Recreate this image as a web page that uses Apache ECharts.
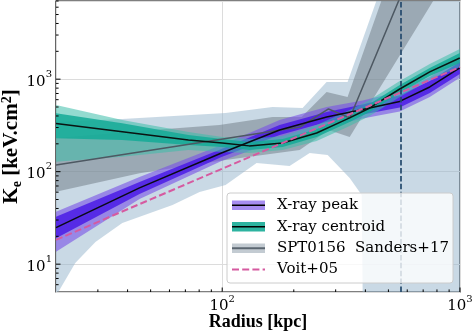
<!DOCTYPE html>
<html><head><meta charset="utf-8">
<script src="https://cdn.jsdelivr.net/npm/echarts@6/dist/echarts.min.js"></script>
<style>html,body{margin:0;padding:0;background:#fff}#c{width:474px;height:333px}</style>
</head><body><div id="c"></div>
<script>
// ---- axis ranges & ticks ----
const xRange = [20, 1000];
const yRange = [5, 7000];
const xMajorTicks = [100, 1000];
const xMinorTicks = [30,40,50,60,70,80,90,200,300,400,500,600,700,800,900];
const yMajorTicks = [10, 100, 1000];
const yMinorTicks = [6,7,8,9,20,30,40,50,60,70,80,90,200,300,400,500,600,700,800,900,2000,3000,4000,5000,6000,7000];

// ---- SPT0156 Sanders+17 ----
const sandR = [20, 212, 280, 344, 678];
const sandK = [118, 304, 476, 381, 24950];
const sandDarkUpR = [20, 44.9, 97.4, 162.8, 215.8, 274.8, 336.7, 468.5, 677];
const sandDarkUpK = [231, 275, 320, 390, 390, 727, 642, 7180, 67400];
const sandDarkLoR = [20, 44.9, 103.3, 211.6, 280.3, 343.6, 775.7, 1212];
const sandDarkLoK = [60.8, 96.1, 133.8, 171.6, 282.4, 237.2, 7180, 52600];
const sandLightUpR = [20, 38, 103.3, 162.8, 217.8, 274.8, 336.7, 446.4, 614.8, 1000];
const sandLightUpK = [345, 371, 431, 500, 488, 933, 933, 7180, 67400, 1e6];
const sandLightLoR = [20, 24.1, 29.3, 38, 61.8, 80.3, 103.3, 139.5, 192, 233.2, 277.6, 343.6, 386, 393.6, 1000];
const sandLightLoK = [4.53, 10.3, 17.4, 27.9, 43.7, 60.3, 71.8, 124.2, 115.2, 159.3, 151.5, 85.5, 56, 0.34, 0.3];

// ---- X-ray peak ----
const peakR = [20, 44.9, 99.3, 174.3, 274.9, 389.7, 557.7, 746.2, 998];
const peakK = [24.8, 66.7, 159.3, 282.4, 390.3, 470, 575, 823.6, 1321];
const peakDarkUp = [32.6, 77.4, 176, 320, 442, 532, 668, 956, 1535];
const peakDarkLo = [19.05, 57.4, 144, 249, 344.6, 415, 495, 709, 1138];
const peakLightUp = [36.9, 87.7, 194.4, 362, 500.6, 588, 737, 1056, 1694];
const peakLightLo = [13.6, 50.7, 130.5, 220, 304, 376, 448, 642, 1033];

// ---- X-ray centroid ----
const centR = [20, 38, 72.1, 100, 130, 179.5, 249.5, 343.5, 417, 558, 746, 998];
const centK = [332, 270, 220, 204, 190, 204, 262, 381, 488, 783, 1197, 1694];
const centDarkUp = [428, 333.6, 249, 225.6, 209.4, 225.6, 288, 420.5, 539, 865.6, 1321, 1920];
const centDarkLo = [229.6, 220, 194, 185, 171.6, 185, 237, 344.6, 442, 709, 1083, 1496];
const centLightUp = [526, 362, 268.7, 237, 225.6, 243, 320, 464.5, 595.6, 956, 1460, 2121];
const centLightLo = [128.3, 145.3, 171.6, 163.3, 159.3, 171.6, 214.8, 312, 400, 642, 980, 1355];

// ---- Voit+05 ----
const voitR = [20, 50, 100, 200, 500, 1000];
const voitK = [18.3, 50.2, 107.4, 230, 631, 1349];

// ---- vertical marker ----
const markerR = [565];

const legendLabels = ['X-ray peak', 'X-ray centroid', 'SPT0156  Sanders+17', 'Voit+05'];

const FONT = '"DejaVu Serif", serif';
const TFONT = '"Liberation Serif", serif';

function pairs(r, k) { return r.map((v, i) => [v, k[i]]); }

function band(rU, kU, rL, kL, color) {
  return {
    type: 'custom', coordinateSystem: 'cartesian2d', clip: true, silent: true,
    data: [[100, 100]],
    renderItem: function (params, api) {
      const pts = [];
      for (let i = 0; i < rU.length; i++) pts.push(api.coord([rU[i], kU[i]]));
      for (let i = rL.length - 1; i >= 0; i--) pts.push(api.coord([rL[i], kL[i]]));
      return { type: 'polygon', shape: { points: pts }, style: { fill: color, stroke: null } };
    }
  };
}
function line(r, k, color, width, dash) {
  return {
    type: 'line', data: pairs(r, k), showSymbol: false, symbol: 'none', silent: true,
    lineStyle: { color: color, width: width, type: dash || 'solid' }, clip: true
  };
}

const tickSeries = {
  type: 'custom', coordinateSystem: 'cartesian2d', clip: false, silent: true, z: 5,
  data: [[100, 100]],
  renderItem: function (params, api) {
    const children = [];
    const seg = (a, b) => children.push({ type: 'line', shape: { x1: a[0], y1: a[1], x2: b[0], y2: b[1] }, style: { stroke: '#000', lineWidth: 1 } });
    xMajorTicks.forEach(v => { const p = api.coord([v, yRange[0]]); seg(p, [p[0], p[1] - 4.5]); });
    xMinorTicks.forEach(v => { const p = api.coord([v, yRange[0]]); seg(p, [p[0], p[1] - 2.6]); });
    yMajorTicks.forEach(v => { const p = api.coord([xRange[0], v]); seg(p, [p[0] + 4.5, p[1]]); });
    yMinorTicks.forEach(v => { const p = api.coord([xRange[0], v]); seg(p, [p[0] + 2.6, p[1]]); });
    return { type: 'group', children: children };
  }
};

function fmt(list) {
  return function (v) {
    for (const t of list) {
      if (Math.abs(Math.log10(v) - Math.log10(t)) < 1e-6) return '{b|10}{s|' + Math.round(Math.log10(t)) + '}';
    }
    return '';
  };
}
const labRich = {
  b: { fontFamily: FONT, fontSize: 15, color: '#000', lineHeight: 20, verticalAlign: 'bottom' },
  s: { fontFamily: FONT, fontSize: 10, color: '#000', lineHeight: 6, verticalAlign: 'top' }
};

const vline = {
  type: 'line', data: [], silent: true, z: 4,
  markLine: {
    silent: true, symbol: 'none', label: { show: false },
    lineStyle: { color: '#24496d', width: 1.7, type: [5.5, 2.4] },
    data: markerR.map(v => ({ xAxis: v }))
  }
};

const lg = [];
lg.push({ type: 'rect', shape: { x: 227, y: 193, width: 226, height: 90, r: 3 }, style: { fill: 'rgba(255,255,255,0.8)', stroke: '#cccccc', lineWidth: 1 }, z: 100 });
const rowY = [205.3, 226.7, 248.3, 269.5];
lg.push({ type: 'rect', shape: { x: 232, y: rowY[0] - 4.7, width: 33, height: 9.4 }, style: { fill: '#a68cf0' }, z: 101 });
lg.push({ type: 'line', shape: { x1: 232, y1: rowY[0], x2: 265, y2: rowY[0] }, style: { stroke: '#000', lineWidth: 1.5 }, z: 102 });
lg.push({ type: 'rect', shape: { x: 232, y: rowY[1] - 4.7, width: 33, height: 9.4 }, style: { fill: '#2db3a0' }, z: 101 });
lg.push({ type: 'line', shape: { x1: 232, y1: rowY[1], x2: 265, y2: rowY[1] }, style: { stroke: '#000', lineWidth: 1.5 }, z: 102 });
lg.push({ type: 'rect', shape: { x: 232, y: rowY[2] - 4.7, width: 33, height: 9.4 }, style: { fill: '#c3cbd2' }, z: 101 });
lg.push({ type: 'line', shape: { x1: 232, y1: rowY[2], x2: 265, y2: rowY[2] }, style: { stroke: '#5b6670', lineWidth: 2 }, z: 102 });
lg.push({ type: 'line', shape: { x1: 232, y1: rowY[3], x2: 265, y2: rowY[3] }, style: { stroke: '#d65aa0', lineWidth: 2, lineDash: [7, 3.2] }, z: 102 });
legendLabels.forEach((t, i) => {
  lg.push({ type: 'text', x: 277, y: rowY[i], style: { text: t, font: '15px ' + FONT, fill: '#000', verticalAlign: 'middle', align: 'left' }, z: 103 });
});

const chart = echarts.init(document.getElementById('c'), null, { renderer: 'canvas' });
chart.setOption({
  animation: false,
  backgroundColor: '#fff',
  grid: { left: 56, right: 14, top: 1, bottom: 41, show: true, borderColor: '#000', borderWidth: 1.2, backgroundColor: 'transparent', containLabel: false, outerBoundsMode: 'none' },
  xAxis: {
    type: 'log', logBase: 10, min: xRange[0], max: xRange[1],
    name: 'Radius [kpc]', nameLocation: 'middle', nameGap: 21, nameMoveOverlap: false,
    nameTextStyle: { fontFamily: TFONT, fontWeight: 'bold', fontSize: 18, color: '#000' },
    axisLine: { show: false }, axisTick: { show: false }, minorTick: { show: false },
    axisLabel: { formatter: fmt(xMajorTicks), margin: 2, rich: labRich, showMinLabel: true, showMaxLabel: true, hideOverlap: false },
    splitLine: { show: true, lineStyle: { color: '#dcdcdc', width: 1 } }
  },
  yAxis: {
    type: 'log', logBase: 10, min: yRange[0], max: yRange[1],
    name: '{b|K}{sub|e}{b| [keV.cm}{sup|2}{b|]}', nameLocation: 'middle', nameGap: 32, nameRotate: 90, nameMoveOverlap: false,
    nameTextStyle: {
      rich: {
        b: { fontFamily: TFONT, fontWeight: 'bold', fontSize: 21, color: '#000', lineHeight: 24, verticalAlign: 'middle' },
        sub: { fontFamily: TFONT, fontWeight: 'bold', fontSize: 14, color: '#000', lineHeight: 6, verticalAlign: 'bottom' },
        sup: { fontFamily: TFONT, fontWeight: 'bold', fontSize: 14, color: '#000', lineHeight: 6, verticalAlign: 'top' }
      }
    },
    axisLine: { show: false }, axisTick: { show: false }, minorTick: { show: false },
    axisLabel: { formatter: fmt(yMajorTicks), margin: 4, rich: labRich, hideOverlap: false },
    splitLine: { show: true, lineStyle: { color: '#dcdcdc', width: 1 } }
  },
  series: [
    band(sandLightUpR, sandLightUpK, sandLightLoR, sandLightLoK, 'rgba(147,179,203,0.5)'),
    band(sandDarkUpR, sandDarkUpK, sandDarkLoR, sandDarkLoK, 'rgba(100,110,120,0.45)'),
    line(sandR, sandK, '#4d5862', 1.5),
    band(peakR, peakLightUp, peakR, peakLightLo, 'rgba(120,80,230,0.6)'),
    band(peakR, peakDarkUp, peakR, peakDarkLo, 'rgba(70,20,230,0.8)'),
    line(peakR, peakK, '#0a0a14', 1.5),
    band(centR, centLightUp, centR, centLightLo, 'rgba(60,190,170,0.55)'),
    band(centR, centDarkUp, centR, centDarkLo, 'rgba(20,170,150,0.85)'),
    line(centR, centK, '#0a1412', 1.5),
    line(voitR, voitK, '#d65aa0', 2, [7, 3.2]),
    vline,
    tickSeries
  ],
  graphic: lg
});
</script></body></html>
